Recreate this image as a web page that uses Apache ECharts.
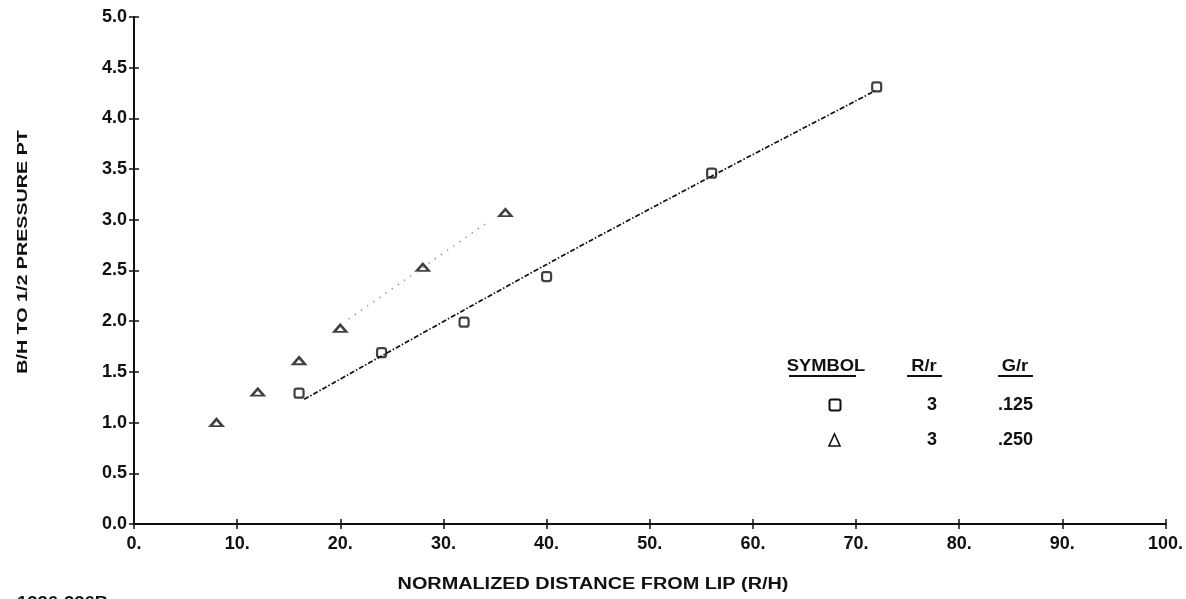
<!DOCTYPE html>
<html>
<head>
<meta charset="utf-8">
<style>
  html, body { margin: 0; padding: 0; background: #fff; }
  #chart { width: 1186px; height: 599px; }
</style>
<script src="https://cdn.jsdelivr.net/npm/echarts@6/dist/echarts.min.js"></script>
</head>
<body>
<div id="chart"></div>
<script>
// Measured points: normalized distance R/H vs B/H to the 1/2 pressure point
const squareX = [16, 24, 32, 40, 56, 72];
const squareY = [1.29, 1.69, 1.99, 2.44, 3.46, 4.31];
const triangleX = [8, 12, 16, 20, 28, 36];
const triangleY = [1.00, 1.30, 1.61, 1.93, 2.53, 3.07];

// Faired curves through each data set
const squareFitX = [16.5, 40, 56, 72];
const squareFitY = [1.23, 2.56, 3.43, 4.28];
const triangleFitX = [20.8, 34.2];
const triangleFitY = [2.02, 2.97];

// Key table entries
const keyHeaders = ['SYMBOL', 'R/r', 'G/r'];
const keyRr = ['3', '3'];
const keyGr = ['.125', '.250'];

const xTitle = 'NORMALIZED DISTANCE FROM LIP (R/H)';
const yTitle = 'B/H TO 1/2 PRESSURE PT';
const figureId = '1236-226B';

const pairs = (xs, ys) => xs.map((x, i) => [x, ys[i]]);

const FONT = '"Liberation Sans", Arial, Helvetica, sans-serif';
const INK = '#111';

const chart = echarts.init(document.getElementById('chart'), null, { renderer: 'canvas' });

const tickStyle = { show: true, inside: true, length: 5, lineStyle: { color: INK, width: 1.5 } };
const lineStyle = { show: true, lineStyle: { color: INK, width: 2 } };

const grid = { left: 134, right: 14, top: 17, bottom: 75 };

// Key table layout
const headX = [826, 924, 1015];
const headY = 366;
const rowY = [405, 440];

const keyGraphics = [];
keyHeaders.forEach((h, i) => {
  keyGraphics.push({
    type: 'text', x: headX[i], y: headY, z: 10, scaleX: 1.08,
    style: { text: h, font: 'bold 17px ' + FONT, fill: INK, textAlign: 'center', textVerticalAlign: 'middle' }
  });
});
// underlines below the key headers
[[789, 856], [907, 942], [998, 1033]].forEach(([a, b]) => {
  keyGraphics.push({
    type: 'line', z: 10,
    shape: { x1: a, y1: 376, x2: b, y2: 376 },
    style: { stroke: INK, lineWidth: 2 }
  });
});
// key symbols
keyGraphics.push({
  type: 'rect', z: 10,
  shape: { x: 829.5, y: 399.5, width: 11, height: 11, r: 2 },
  style: { fill: 'none', stroke: INK, lineWidth: 2 }
});
keyGraphics.push({
  type: 'polygon', z: 10,
  shape: { points: [[834.5, 434], [840, 446], [829, 446]] },
  style: { fill: 'none', stroke: INK, lineWidth: 1.6 }
});
keyRr.forEach((v, i) => {
  keyGraphics.push({
    type: 'text', z: 10, x: 932, y: rowY[i],
    style: { text: v, font: 'bold 18px ' + FONT, fill: INK, textAlign: 'center', textVerticalAlign: 'middle' }
  });
});
keyGr.forEach((v, i) => {
  keyGraphics.push({
    type: 'text', z: 10, x: 1033, y: rowY[i],
    style: { text: v, font: 'bold 18px ' + FONT, fill: INK, textAlign: 'right', textVerticalAlign: 'middle' }
  });
});

const option = {
  backgroundColor: '#fff',
  animation: false,
  grid: grid,
  xAxis: [
    {
      type: 'value', min: 0, max: 100, interval: 10, position: 'bottom',
      axisLine: lineStyle, axisTick: tickStyle, splitLine: { show: false },
      axisLabel: {
        color: INK, fontFamily: FONT, fontWeight: 'bold', fontSize: 18, margin: 11,
        formatter: v => v + '.'
      }
    },
    {
      type: 'value', min: 0, max: 100, interval: 10, position: 'top',
      axisLine: lineStyle, axisTick: tickStyle, splitLine: { show: false },
      axisLabel: { show: false }
    }
  ],
  yAxis: [
    {
      type: 'value', min: 0, max: 5, interval: 0.5, position: 'left',
      axisLine: lineStyle, axisTick: tickStyle, splitLine: { show: false },
      axisLabel: {
        color: INK, fontFamily: FONT, fontWeight: 'bold', fontSize: 18, margin: 7,
        formatter: v => v.toFixed(1)
      }
    },
    {
      type: 'value', min: 0, max: 5, interval: 0.5, position: 'right',
      axisLine: lineStyle, axisTick: tickStyle, splitLine: { show: false },
      axisLabel: { show: false }
    }
  ],
  graphic: [
    {
      type: 'text', x: 23, y: 252, rotation: Math.PI / 2, scaleX: 1.27,
      style: { text: yTitle, font: 'bold 15.5px ' + FONT, fill: INK, textAlign: 'center', textVerticalAlign: 'middle' }
    },
    {
      type: 'text', x: 593, y: 585, scaleX: 1.24,
      style: { text: xTitle, font: 'bold 16px ' + FONT, fill: INK, textAlign: 'center', textVerticalAlign: 'middle' }
    },
    {
      type: 'text', x: 17, y: 596, scaleX: 1.15,
      style: { text: figureId, font: 'bold 16px ' + FONT, fill: INK, textAlign: 'left', textVerticalAlign: 'top' }
    }
  ].concat(keyGraphics),
  series: [
    {
      name: 'G/r .125 fit', type: 'line', data: pairs(squareFitX, squareFitY),
      showSymbol: false, smooth: 0.3, silent: true,
      lineStyle: { color: INK, width: 1.7, type: [5, 2, 1.5, 2] }
    },
    {
      name: 'G/r .250 fit', type: 'line', data: pairs(triangleFitX, triangleFitY),
      showSymbol: false, silent: true,
      lineStyle: { color: '#8a8a8a', width: 1.3, type: [1.5, 6] }
    },
    {
      name: 'G/r .125', type: 'scatter', data: pairs(squareX, squareY),
      symbol: 'roundRect', symbolSize: 9,
      itemStyle: { color: 'rgba(0,0,0,0)', borderColor: INK, borderWidth: 2.2 }
    },
    {
      name: 'G/r .250', type: 'scatter', data: pairs(triangleX, triangleY),
      symbol: 'triangle', symbolSize: [12, 7],
      itemStyle: { color: 'rgba(0,0,0,0)', borderColor: INK, borderWidth: 2.4 }
    }
  ]
};

chart.setOption(option);
</script>
</body>
</html>
